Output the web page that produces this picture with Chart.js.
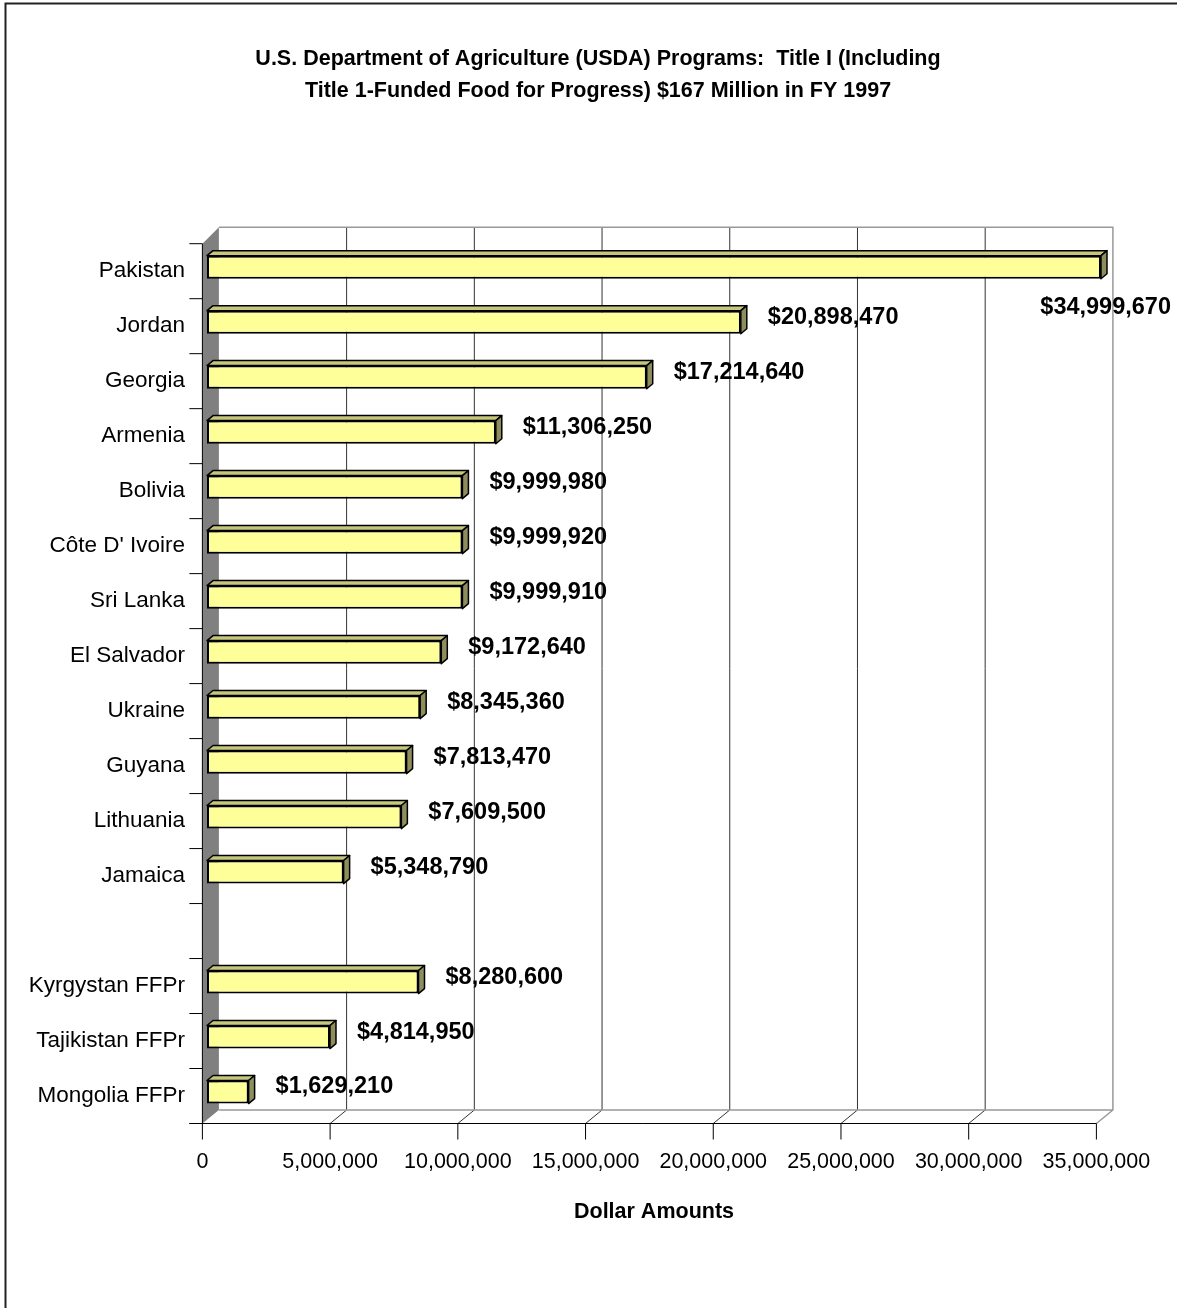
<!DOCTYPE html>
<html>
<head>
<meta charset="utf-8">
<title>USDA Title I Programs FY 1997</title>
<script src="https://cdn.jsdelivr.net/npm/chart.js@4.4.1/dist/chart.umd.min.js"></script>
<style>
  html, body { margin: 0; padding: 0; background: #fff; }
</style>
</head>
<body>
<canvas id="usdaChart" width="1177" height="1308"></canvas>
<script>
// Title I allocations by country, FY 1997 (blank row separates the FFPr group)
const countries = ['Pakistan', 'Jordan', 'Georgia', 'Armenia', 'Bolivia', "Côte D' Ivoire",
  'Sri Lanka', 'El Salvador', 'Ukraine', 'Guyana', 'Lithuania', 'Jamaica', '',
  'Kyrgystan FFPr', 'Tajikistan FFPr', 'Mongolia FFPr'];
const amounts = [34999670, 20898470, 17214640, 11306250, 9999980, 9999920,
  9999910, 9172640, 8345360, 7813470, 7609500, 5348790, null,
  8280600, 4814950, 1629210];
const xTicks = [0, 5000000, 10000000, 15000000, 20000000, 25000000, 30000000, 35000000];

const FONT = "'Liberation Sans', Arial, sans-serif";

// pseudo-3D offsets relative to the bar plane
const FRONT = { dx: -4.6, dy: 4 };
const BACK = { dx: 11.9, top: -12.5, bottom: -9.5 };
const BAR_DEPTH = { dx: 6, dy: -5 };

const boxPlugin = {
  id: 'box3d',
  beforeDraw(chart) {
    const c = chart.ctx;
    c.save();
    c.strokeStyle = '#222';
    c.lineWidth = 2;
    c.beginPath();
    c.moveTo(5.5, chart.height + 5);
    c.lineTo(5.5, 3.5);
    c.lineTo(chart.width + 5, 3.5);
    c.stroke();
    c.restore();
  },
  beforeDatasetsDraw(chart) {
    const c = chart.ctx;
    const x = chart.scales.x;
    const area = chart.chartArea;
    const fx = v => x.getPixelForValue(v) + FRONT.dx;
    const bx = v => x.getPixelForValue(v) + BACK.dx;
    const fTop = area.top + FRONT.dy, fBot = area.bottom + FRONT.dy;
    const bTop = area.top + BACK.top, bBot = area.bottom + BACK.bottom;
    const maxV = xTicks[xTicks.length - 1];

    c.save();
    // gridlines on the back wall, running down across the floor
    c.lineWidth = 1;
    c.strokeStyle = '#333';
    xTicks.slice(1, -1).forEach(v => {
      c.beginPath();
      c.moveTo(bx(v), bTop);
      c.lineTo(bx(v), bBot);
      c.lineTo(fx(v), fBot);
      c.stroke();
    });

    // back wall and floor outline
    c.strokeStyle = '#999';
    c.lineWidth = 1.5;
    c.beginPath();
    c.moveTo(bx(0), bTop);
    c.lineTo(bx(maxV), bTop);
    c.lineTo(bx(maxV), bBot);
    c.lineTo(fx(maxV), fBot);
    c.moveTo(bx(0), bBot);
    c.lineTo(bx(maxV), bBot);
    c.stroke();

    // side wall
    c.fillStyle = '#808080';
    c.beginPath();
    c.moveTo(fx(0), fTop);
    c.lineTo(bx(0), bTop);
    c.lineTo(bx(0), bBot);
    c.lineTo(fx(0), fBot);
    c.closePath();
    c.fill();

    // front axes with tick marks
    c.strokeStyle = '#000';
    c.lineWidth = 1;
    c.beginPath();
    c.moveTo(fx(0), fTop);
    c.lineTo(fx(0), fBot);
    c.moveTo(fx(0) - 13, fBot);
    c.lineTo(fx(maxV), fBot);
    xTicks.forEach(v => {
      c.moveTo(fx(v), fBot);
      c.lineTo(fx(v), fBot + 16);
    });
    const band = (area.bottom - area.top) / countries.length;
    for (let i = 0; i <= countries.length; i++) {
      const y = fTop + i * band;
      c.moveTo(fx(0) - 13, y);
      c.lineTo(fx(0), y);
    }
    c.stroke();
    c.restore();
  },
  afterDatasetsDraw(chart) {
    const c = chart.ctx;
    const meta = chart.getDatasetMeta(0);
    c.save();
    meta.data.forEach((bar, i) => {
      const v = amounts[i];
      if (v == null) return;
      const { x, y, base, height } = bar.getProps(['x', 'y', 'base', 'height'], true);
      const top = y - height / 2, bot = y + height / 2;
      const dx = BAR_DEPTH.dx, dy = BAR_DEPTH.dy;
      c.lineWidth = 1.5;
      c.strokeStyle = '#000';
      c.lineJoin = 'round';
      // top face
      c.fillStyle = '#c6c67c';
      c.beginPath();
      c.moveTo(base, top);
      c.lineTo(base + dx, top + dy);
      c.lineTo(x + dx, top + dy);
      c.lineTo(x, top);
      c.closePath();
      c.fill();
      c.stroke();
      // end face
      c.fillStyle = '#8e8e5c';
      c.beginPath();
      c.moveTo(x, top);
      c.lineTo(x + dx, top + dy);
      c.lineTo(x + dx, bot + dy);
      c.lineTo(x, bot);
      c.closePath();
      c.fill();
      c.stroke();

      // value label
      const text = '$' + v.toLocaleString('en-US');
      c.font = 'bold 23.5px ' + FONT;
      c.fillStyle = '#000';
      c.textAlign = 'left';
      c.textBaseline = 'middle';
      const w = c.measureText(text).width;
      let lx = x + 27, ly = y - 5;
      const limit = chart.width - 6;
      if (lx + w > limit) {
        lx = limit - w;
        ly = y + 40;
      }
      c.fillText(text, lx, ly);
    });
    c.restore();
  }
};

const ctx = document.getElementById('usdaChart');

new Chart(ctx, {
  type: 'bar',
  data: {
    labels: countries,
    datasets: [{
      data: amounts,
      backgroundColor: '#ffff99',
      borderColor: '#000',
      borderWidth: 2,
      borderSkipped: false,
      barPercentage: 0.42,
      categoryPercentage: 1
    }]
  },
  options: {
    indexAxis: 'y',
    responsive: false,
    animation: false,
    layout: { padding: { left: 19, right: 0, top: 0, bottom: 0 } },
    plugins: {
      legend: { display: false },
      tooltip: { enabled: false },
      title: {
        display: true,
        text: ['U.S. Department of Agriculture (USDA) Programs:  Title I (Including',
          'Title 1-Funded Food for Progress) $167 Million in FY 1997'],
        color: '#000',
        font: { family: FONT, size: 21.5, weight: 'bold', lineHeight: '32px' },
        padding: { top: 43, bottom: 132.7 }
      }
    },
    scales: {
      x: {
        min: 0,
        max: 35000000,
        afterBuildTicks: scale => { scale.ticks = xTicks.map(v => ({ value: v })); },
        afterFit: scale => {
          scale.height = 188.5;
          scale.paddingLeft = 0;
          scale.paddingRight = 0;
        },
        grid: { display: false, drawTicks: false },
        border: { display: false },
        ticks: {
          color: '#000',
          font: { family: FONT, size: 21.5 },
          padding: 30,
          labelOffset: -4.6,
          maxRotation: 0,
          autoSkip: false,
          callback: v => v.toLocaleString('en-US')
        },
        title: {
          display: true,
          text: 'Dollar Amounts',
          color: '#000',
          font: { family: FONT, size: 21.5, weight: 'bold' },
          padding: { top: 0, bottom: 83.1 }
        }
      },
      y: {
        afterFit: scale => { scale.width = 188; },
        grid: { display: false, drawTicks: false },
        border: { display: false },
        ticks: {
          color: '#000',
          font: { family: FONT, size: 22.5 },
          padding: 22,
          labelOffset: 4,
          autoSkip: false
        }
      },
      // empty right-hand margin so the plot stops short of the label for the longest bar
      margin: {
        type: 'linear',
        position: 'right',
        afterFit: scale => { scale.width = 76; },
        grid: { display: false, drawTicks: false },
        border: { display: false },
        ticks: { display: false }
      }
    }
  },
  plugins: [boxPlugin]
});
</script>
</body>
</html>
